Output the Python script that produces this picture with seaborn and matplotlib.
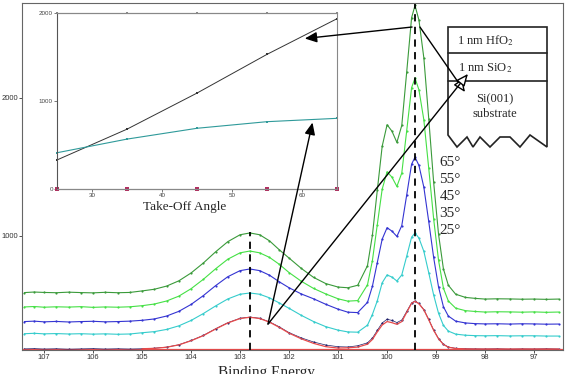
import matplotlib
matplotlib.use("Agg")
import matplotlib.pyplot as plt
import seaborn as sns
from matplotlib.patches import Polygon

# binding energy grid (eV) and spectra for each take-off angle
energy = [107.4, 107.2, 107.0, 106.75, 106.5, 106.25, 106.0, 105.75, 105.5, 105.25,
          105.0, 104.75, 104.5, 104.25, 104.0, 103.75, 103.5, 103.25, 103.0, 102.8,
          102.6, 102.4, 102.2, 102.0, 101.75, 101.5, 101.25, 101.0, 100.8, 100.6,
          100.4, 100.3, 100.2, 100.1, 100.0, 99.9, 99.8, 99.7, 99.6, 99.5,
          99.43, 99.35, 99.25, 99.15, 99.05, 98.95, 98.85, 98.75, 98.6, 98.4,
          98.2, 98.0, 97.75, 97.5, 97.25, 97.0, 96.75, 96.5]

counts_65 = [590, 594, 591, 589, 593, 590, 588, 592, 589, 591,
             602, 614, 637, 675, 732, 804, 885, 959, 1009, 1022,
             1009, 965, 900, 840, 765, 700, 655, 630, 625, 643,
             785, 1004, 1330, 1650, 1806, 1759, 1678, 1801, 2186, 2581,
             2670, 2564, 2291, 1851, 1391, 1013, 761, 643, 578, 555,
             548, 543, 545, 544, 542, 543, 541, 543]

counts_55 = [486, 489, 484, 487, 485, 488, 483, 486, 484, 487,
             495, 507, 529, 564, 618, 686, 762, 832, 878, 891,
             878, 845, 795, 735, 672, 620, 580, 545, 528, 532,
             646, 821, 1081, 1339, 1465, 1426, 1359, 1456, 1761, 2074,
             2144, 2059, 1842, 1491, 1125, 824, 622, 529, 477, 459,
             453, 449, 451, 450, 448, 450, 447, 449]

counts_45 = [380, 383, 378, 381, 377, 380, 382, 378, 380, 383,
             389, 399, 420, 454, 504, 568, 640, 705, 749, 761,
             749, 716, 668, 625, 580, 545, 505, 470, 448, 445,
             519, 635, 807, 977, 1060, 1035, 997, 1075, 1296, 1520,
             1571, 1511, 1354, 1105, 845, 631, 487, 420, 383, 370,
             365, 363, 364, 362, 364, 363, 361, 362]

counts_35 = [292, 295, 291, 293, 290, 292, 289, 291, 288, 290,
             299, 307, 323, 349, 388, 438, 493, 544, 578, 587,
             578, 552, 515, 476, 425, 380, 343, 318, 305, 303,
             354, 431, 530, 661, 718, 702, 674, 718, 853, 991,
             1022, 985, 889, 734, 573, 440, 352, 311, 289, 281,
             278, 277, 278, 276, 277, 277, 275, 275]

counts_25 = [182, 184, 181, 183, 180, 182, 184, 181, 183, 181,
             183, 187, 195, 212, 243, 280, 328, 372, 404, 413,
             404, 378, 342, 300, 262, 232, 210, 198, 196, 205,
             226, 260, 316, 370, 397, 388, 373, 391, 453, 516,
             529, 511, 467, 395, 319, 257, 216, 196, 186, 183,
             182, 181, 183, 180, 182, 181, 183, 181]

# fitted envelope for the 25 deg spectrum (from 105 eV down)
fit_25 = [183, 186, 194, 211, 241, 278, 326, 370, 402, 411,
          402, 376, 338, 296, 255, 222, 198, 188, 190, 195,
          216, 250, 305, 355, 380, 372, 360, 380, 446, 512,
          527, 509, 465, 393, 317, 255, 214, 194, 185, 182,
          181, 181, 181, 181, 181, 181, 181, 181]
background_25 = 179

peak_sio2 = 102.8
peak_si = 99.43

angle_labels = ["65°", "55°", "45°", "35°", "25°"]

# inset: intensity vs take-off angle
takeoff = [25, 35, 45, 55, 65]
hfo2_signal = [330, 680, 1090, 1530, 1935]
sio2_signal = [412, 567, 690, 765, 803]
top_ref = [2000, 2000, 2000, 2000, 2000]
zero_ref = [0, 0, 0, 0, 0]

W, H = 566, 374


def fx(x):
    return x / W


def fy(y):
    return 1 - y / H


sns.set_style("white")
plt.rcParams["font.family"] = ["Liberation Sans", "DejaVu Sans"]
plt.rcParams["mathtext.fontset"] = "stix"

fig = plt.figure(figsize=(W / 100, H / 100), dpi=100)
ax = fig.add_axes([fx(22), fy(350), 541 / W, 347 / H])

colors = ["#3a9a3a", "#45e045", "#3434d2", "#35cccc"]
for vals, col in zip([counts_65, counts_55, counts_45, counts_35], colors):
    sns.lineplot(x=energy, y=vals, ax=ax, color=col, linewidth=0.8)
    sns.scatterplot(x=energy, y=vals, ax=ax, color=col, s=2.5, linewidth=0)

ax.axhline(background_25, color="#e84a4a", lw=0.9)
sns.lineplot(x=energy, y=counts_25, ax=ax, color="#20206a", linewidth=0.5)
sns.lineplot(x=energy[10:], y=fit_25, ax=ax, color="#e84a4a", linewidth=0.9)
sns.scatterplot(x=energy, y=counts_25, ax=ax, color="#20206a", s=2.5, linewidth=0)

ax.plot([peak_sio2, peak_sio2], [174, 1030], color="black", lw=1.3, dashes=(4, 3))
ax.axvline(peak_si, color="black", lw=1.3, dashes=(4, 3))

ax.set_xlim(107.45, 96.41)
ax.set_ylim(174, 2688)
ax.set_xticks(range(97, 108))
ax.set_yticks([1000, 2000])
ax.tick_params(labelsize=5.5, length=2, width=0.6, pad=1, bottom=True, left=True,
               colors="#333333")
for s in ax.spines.values():
    s.set_color("#666666")
    s.set_linewidth(0.8)
ax.set_xlabel("")
ax.set_ylabel("")

for i, lab in enumerate(angle_labels):
    ax.text(98.93, 1529 - i * 123, lab, ha="left", va="center",
            family="Liberation Serif", fontsize=11)

# layer stack sketch
kw = dict(transform=fig.transFigure, clip_on=False)
outline = [(448, 27), (547, 27), (547, 147), (530, 135), (520, 147), (510, 137),
           (500, 137), (490, 147), (480, 137), (473, 147), (467, 137), (457, 147),
           (448, 135)]
ax.add_patch(Polygon([(fx(x), fy(y)) for x, y in outline], closed=True,
                     fill=False, ec="#222222", lw=1.2, **kw))
for yl in [53, 81]:
    ax.plot([fx(448), fx(547)], [fy(yl), fy(yl)], color="#222222", lw=1.2, **kw)
layer_txt = [(486, 41, "1 nm HfO$_2$"), (485, 68, "1 nm SiO$_2$"),
             (495, 99, "Si(001)"), (495, 114, "substrate")]
for x, y, t in layer_txt:
    ax.text(fx(x), fy(y), t, ha="center", va="center", fontsize=9,
            family="Liberation Serif", **kw)

fig.text(fx(266), fy(366), "Binding Energy", ha="center", va="top",
         family="Liberation Serif", fontsize=11)

# inset
ins = fig.add_axes([fx(57), fy(189), 280 / W, 176 / H])
sns.lineplot(x=takeoff, y=top_ref, ax=ins, color="#888888", lw=0.8, marker="s",
             markersize=2, markeredgewidth=0)
sns.lineplot(x=takeoff, y=zero_ref, ax=ins, color="#555555", lw=0.8, marker="s",
             markersize=2.2, markeredgewidth=0, markerfacecolor="#b03060")
sns.lineplot(x=takeoff, y=hfo2_signal, ax=ins, color="#333333", lw=0.7, marker="s",
             markersize=2, markeredgewidth=0)
sns.lineplot(x=takeoff, y=sio2_signal, ax=ins, color="#2f9a9a", lw=0.8, marker="s",
             markersize=2, markeredgewidth=0)
for ln in ins.lines:
    ln.set_clip_on(False)
ins.set_xlim(25, 65)
ins.set_ylim(0, 2000)
ins.set_xticks([30, 40, 50, 60])
ins.set_yticks([0, 1000, 2000])
ins.tick_params(labelsize=4.5, length=2, width=0.5, pad=1, bottom=True, left=True,
                colors="#444444")
for s in ins.spines.values():
    s.set_color("#888888")
    s.set_linewidth(0.8)
ins.spines["left"].set_color("#555555")
ins.set_xlabel("")
ins.set_ylabel("")
fig.text(fx(185), fy(207), "Take-Off Angle", ha="center", va="center",
         family="Liberation Serif", fontsize=9.5)

filled = dict(arrowstyle="-|>,head_length=0.8,head_width=0.35", mutation_scale=9,
              color="black", lw=1.0, shrinkA=0, shrinkB=0)
hollow = dict(arrowstyle="-|>,head_length=0.8,head_width=0.35", mutation_scale=9,
              fc="white", ec="black", lw=1.0, shrinkA=0, shrinkB=0)
ins.annotate("", xy=(60.4, 1710), xycoords="data", xytext=(99.49, 2514),
             textcoords=ax.transData, arrowprops=filled, annotation_clip=False)
ins.annotate("", xy=(61.5, 755), xycoords="data", xytext=(102.43, 362),
             textcoords=ax.transData, arrowprops=filled, annotation_clip=False)
ins.annotate("", xy=(98.41, 2043), xycoords=ax.transData, xytext=(99.33, 2514),
             textcoords=ax.transData, arrowprops=hollow, annotation_clip=False)
ins.annotate("", xy=(98.35, 2174), xycoords=ax.transData, xytext=(102.43, 362),
             textcoords=ax.transData, arrowprops=hollow, annotation_clip=False)

fig.savefig("out.png", dpi=100)
